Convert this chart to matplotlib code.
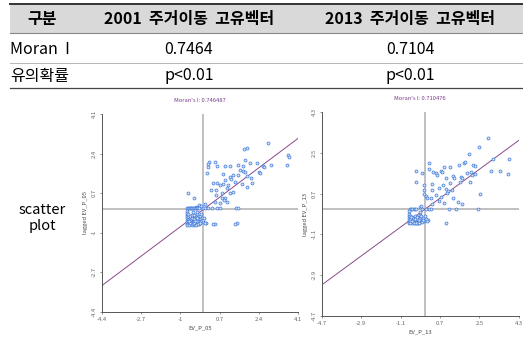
import matplotlib.pyplot as plt

plt.rcParams['font.family'] = ['Noto Sans CJK KR', 'DejaVu Sans']

# table text
headers = ["구분", "2001  주거이동  고유벡터", "2013  주거이동  고유벡터"]
row_moran = ["Moran  I", "0.7464", "0.7104"]
row_p = ["유의확률", "p<0.01", "p<0.01"]
row_scatter = "scatter\nplot"

# 2001 scatter (EV_P_05 vs lagged EV_P_05)
moran_01 = 0.746487
x_01 = [2.77, 1.87, 1.75, 3.66, 3.69, 3.62, 2.93, 2.57, 2.62, 2.38, 2.30, 2.01, 1.79, 1.69,
        1.72, 1.79, 1.58, 1.87, 1.50, 1.29, 1.14, 1.50, 1.14, 0.95, 0.60, 0.26, 0.19, 0.19,
        0.16, 0.48, 0.85, 0.92, 0.41, 0.60, 0.85, 1.07, 0.70, 0.34, 1.36, 1.65, 1.87, 2.09,
        1.00, 0.78, 0.56, 0.78, 0.92, 1.02, 0.70, 0.48, 1.14, 1.29, 0.90, 1.20, 2.05, 2.45,
        0.55,
        -0.65, -0.39, -0.32, -0.20, -0.10, 0.05, 0.12, 0.48, 1.43,
        -0.72, -0.68, -0.64, -0.60, -0.56, -0.52, -0.48, -0.44, -0.40, -0.36, -0.32, -0.28,
        -0.24, -0.20, -0.02, 0.05, 0.20, 0.37, 0.58, 0.71, 1.41, 1.49,
        -0.72, -0.72, -0.72, -0.72, -0.72, -0.72, -0.70, -0.70, -0.70, -0.69,
        -0.66, -0.63, -0.61, -0.58, -0.55, -0.52, -0.49, -0.46, -0.43, -0.40,
        -0.37, -0.34, -0.31, -0.28, -0.25, -0.22, -0.19, -0.16, -0.64, -0.57,
        -0.51, -0.45, -0.39, -0.33, -0.27, -0.21, -0.62, -0.55, -0.48, -0.41,
        -0.35, -0.29, -0.23, -0.17, -0.12, -0.08, -0.04, 0.00, 0.04, -0.14,
        -0.60, -0.50, -0.40, -0.30, -0.66, -0.44, -0.26, -0.10, 0.07, 0.43, 1.36]
y_01 = [2.84, 2.62, 2.58, 2.34, 2.27, 1.89, 1.89, 1.87, 1.84, 1.62, 1.98, 1.98, 2.12, 1.87,
        1.65, 1.62, 1.69, 1.44, 1.48, 1.48, 1.41, 1.91, 1.87, 1.87, 1.87, 2.05, 1.95, 1.84,
        1.55, 2.05, 1.52, 1.26, 1.12, 1.12, 1.08, 1.05, 1.05, 0.83, 1.16, 1.08, 0.98, 1.12,
        0.91, 0.69, 0.62, 0.48, 0.48, 0.33, 0.26, 0.33, 0.69, 0.76, 0.40, 1.30, 1.35, 1.55,
        0.85,
        0.69, 0.48, 0.12, 0.20, 0.15, 0.25, -0.57, -0.63, -0.60,
        0.04, 0.04, 0.04, 0.04, 0.04, 0.04, 0.04, 0.04, 0.04, 0.04, 0.04, 0.04,
        0.04, 0.04, 0.04, 0.04, 0.04, 0.04, 0.04, 0.04, 0.04, 0.04,
        -0.05, -0.15, -0.25, -0.35, -0.45, -0.55, -0.62, -0.68, -0.30, -0.50,
        -0.32, -0.41, -0.55, -0.36, -0.63, -0.47, -0.34, -0.58, -0.44, -0.66,
        -0.38, -0.52, -0.31, -0.61, -0.45, -0.35, -0.56, -0.42, -0.67, -0.60,
        -0.68, -0.64, -0.57, -0.67, -0.49, -0.62, -0.50, -0.42, -0.35, -0.40,
        -0.48, -0.39, -0.64, -0.30, -0.48, -0.36, -0.55, -0.44, -0.38, -0.60,
        -0.28, -0.26, -0.24, -0.22, -0.20, -0.10, -0.12, -0.18, -0.60, -0.64, -0.62]

# 2013 scatter (EV_P_13 vs lagged EV_P_13)
moran_13 = 0.710476
x_13 = [2.92, 2.48, 3.14, 2.01, 3.87, 1.82, 2.19, 2.31, 1.83, 1.56, 1.18, 0.88, 0.73, 0.80,
        0.20, 0.20, 0.38, 0.50, 0.58, -0.40, -0.10, 1.29, 1.33, 0.96, 1.66, 1.71, 1.94, 2.16,
        2.31, 2.13, 3.04, 3.45, 3.79, 1.64, 2.07, 1.18, 0.84, 0.35, 0.65, 0.96, 1.06, 1.26,
        1.03, 0.35, -0.02, -0.02, -0.02, -0.40, 0.05, 0.13, 0.28, 0.50, 0.73, 1.29, 1.51,
        1.71, 2.54, 0.88, 0.35, 0.65, 1.00, 0.17,
        -0.68, -0.62, -0.56, -0.50, -0.44, -0.38, -0.10, 0.05, 0.18, 0.30, 1.10, 1.45, 2.45,
        -0.71, -0.71, -0.71, -0.71, -0.71, -0.71, -0.71, -0.20, -0.20, -0.20, -0.20,
        -0.66, -0.61, -0.56, -0.51, -0.46, -0.41, -0.36, -0.31, -0.26, -0.68, -0.63,
        -0.58, -0.53, -0.48, -0.43, -0.38, -0.33, -0.28, -0.23, -0.65, -0.60, -0.55,
        -0.50, -0.45, -0.40, -0.35, -0.30, -0.25, -0.67, -0.57, -0.47, -0.37, -0.27,
        -0.16, -0.12, -0.08, -0.04, 0.02, -0.14, -0.06, 0.05, -0.20, -0.15, 0.10]
y_13 = [3.18, 2.78, 2.24, 2.44, 2.22, 2.04, 1.97, 1.94, 2.12, 1.97, 1.90, 1.87, 1.70, 1.65,
        2.04, 1.79, 1.65, 1.60, 1.53, 1.70, 1.60, 1.50, 1.38, 1.41, 1.45, 1.38, 1.60, 1.53,
        1.57, 1.67, 1.70, 1.72, 1.56, 1.23, 1.20, 1.16, 1.08, 1.11, 0.94, 0.91, 0.82, 0.86,
        0.72, 0.86, 1.08, 0.86, 0.67, 1.20, 0.61, 0.49, 0.49, 0.64, 0.54, 0.49, 0.32,
        0.23, 0.67, 0.30, 0.23, 0.38, -0.58, -0.46,
        0.00, 0.00, 0.00, 0.00, 0.00, 0.00, 0.00, 0.00, 0.00, 0.00, 0.00, 0.00, 0.00,
        -0.08, -0.18, -0.28, -0.38, -0.48, -0.56, -0.62, -0.10, -0.25, -0.40, -0.55,
        -0.30, -0.45, -0.35, -0.52, -0.40, -0.60, -0.33, -0.48, -0.58, -0.42, -0.55,
        -0.62, -0.38, -0.50, -0.30, -0.57, -0.44, -0.61, -0.36, -0.52, -0.35, -0.47,
        -0.58, -0.40, -0.62, -0.33, -0.54, -0.45, -0.60, -0.50, -0.60, -0.58, -0.62,
        -0.30, -0.42, -0.36, -0.50, -0.28, -0.55, -0.45, -0.40, 0.10, 0.15, -0.50]

W, H = 523, 337
fig = plt.figure(figsize=(W / 100, H / 100), dpi=100)

# table drawn in pixel coordinates
bg = fig.add_axes([0, 0, 1, 1])
bg.set_xlim(0, W)
bg.set_ylim(H, 0)
bg.axis('off')

bg.fill_between([10, 523], 4, 33, color='#d9d9d9', lw=0)
bg.plot([10, 523], [4, 4], color='#333333', lw=1.4)
bg.plot([10, 523], [33, 33], color='#888888', lw=0.8)
bg.plot([10, 523], [63, 63], color='#aaaaaa', lw=0.6)
bg.plot([10, 523], [88, 88], color='#444444', lw=0.9)

fs = 11.5
col_x = [42, 189, 410]
for i, t in enumerate(headers):
    bg.text(col_x[i], 19, t, ha='center', va='center', fontsize=fs, fontweight='bold')
bg.text(10, 49, row_moran[0], ha='left', va='center', fontsize=fs)
bg.text(189, 49, row_moran[1], ha='center', va='center', fontsize=fs)
bg.text(410, 49, row_moran[2], ha='center', va='center', fontsize=fs)
bg.text(10, 76, row_p[0], ha='left', va='center', fontsize=fs)
bg.text(189, 76, row_p[1], ha='center', va='center', fontsize=fs)
bg.text(410, 76, row_p[2], ha='center', va='center', fontsize=fs)
bg.text(42, 218, row_scatter, ha='center', va='center', fontsize=10.5, linespacing=1.25)


def moran_plot(rect, xs, ys, slope, lim, ticks, name, title):
    ax = fig.add_axes(rect)
    ax.set_xlim(lim)
    ax.set_ylim(lim)
    ax.axvline(0, color='#b5b5b5', lw=1.2, zorder=1)
    ax.axhline(0, color='#b5b5b5', lw=1.2, zorder=1)
    ax.plot(lim, [lim[0] * slope, lim[1] * slope], color='#8a4a8a', lw=0.7, zorder=2)
    ax.scatter(xs, ys, s=4.5, facecolor='#d6e4f8', edgecolor='#4a80da', lw=0.55, zorder=3)
    ax.set_xticks(ticks)
    ax.set_yticks(ticks)
    ax.set_xticklabels([str(t) for t in ticks], fontsize=4.2, color='#444444')
    ax.set_yticklabels([str(t) for t in ticks], fontsize=4.2, color='#444444',
                       rotation=90, va='center')
    ax.tick_params(length=1.5, width=0.5, pad=2, colors='#666666')
    for s in ['top', 'right']:
        ax.spines[s].set_visible(False)
    for s in ['left', 'bottom']:
        ax.spines[s].set_color('#555555')
        ax.spines[s].set_linewidth(0.7)
    ax.set_xlabel(name, fontsize=4.2, color='#444444', labelpad=3)
    ax.set_ylabel('lagged ' + name, fontsize=4.2, color='#444444', labelpad=3)
    ax.set_title(title, fontsize=4.2, color='#7a3f8c', pad=9)
    return ax


moran_plot([101.7 / W, 1 - 311.7 / H, 196.6 / W, 197.7 / H], x_01, y_01, moran_01,
           (-4.4, 4.1), [-4.4, -2.7, -1, 0.7, 2.4, 4.1], 'EV_P_05',
           "Moran's I: %.6f" % moran_01)
moran_plot([321.7 / W, 1 - 315.7 / H, 197.0 / W, 203.4 / H], x_13, y_13, moran_13,
           (-4.7, 4.3), [-4.7, -2.9, -1.1, 0.7, 2.5, 4.3], 'EV_P_13',
           "Moran's I: %.6f" % moran_13)

fig.savefig('out.png', dpi=100)
